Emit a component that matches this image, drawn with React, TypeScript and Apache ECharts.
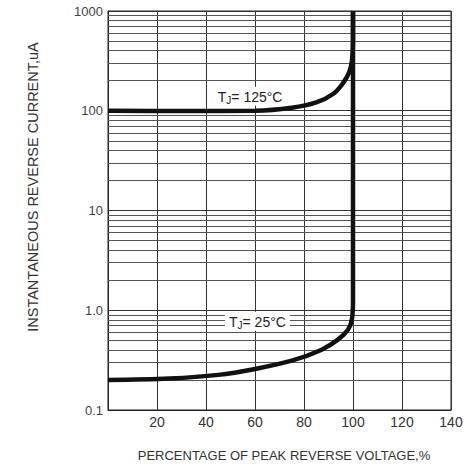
import React, { useEffect, useRef } from "react";
import * as echarts from "echarts";

const xTicks = [0, 20, 40, 60, 80, 100, 120, 140];
const yTickLabels: Record<string, string> = { "0.1": "0.1", "1": "1.0", "10": "10", "100": "100", "1000": "1000" };

// TJ = 125°C curve: [percentage, current uA]
const curve125: [number, number][] = [
  [0, 100], [30, 99.5], [60, 100], [75, 107], [85, 121],
  [92, 148], [96, 190], [98.5, 245], [99.6, 320], [100, 500], [100, 1000],
];
// TJ = 25°C curve
const curve25: [number, number][] = [
  [0, 0.2], [25, 0.207], [45, 0.225], [60, 0.258], [75, 0.312],
  [87, 0.4], [94, 0.51], [98, 0.64], [99.5, 0.8], [100, 1.2], [100, 1000],
];
// Minor log grid lines
const minorLines = [
  0.2, 0.3, 0.4, 0.5, 0.6, 0.7, 0.8, 0.9,
  2, 3, 4, 5, 6, 7, 8, 9,
  20, 30, 40, 50, 60, 70, 80, 90,
  200, 300, 400, 500, 600, 700, 800, 900,
];
const label125Pos: [number, number] = [58, 140];
const label25Pos: [number, number] = [61, 0.775];

const FONT = "'Liberation Sans', Arial, sans-serif";

export default function App() {
  const ref = useRef<HTMLDivElement>(null);
  useEffect(() => {
    if (!ref.current) return;
    const chart = echarts.init(ref.current, null, { renderer: "svg" });
    const rich = {
      t: { fontSize: 14, fontFamily: FONT, color: "#222" },
      sub: { fontSize: 10, fontFamily: FONT, color: "#222", padding: [7, 0, 0, 0] },
    };
    chart.setOption({
      animation: false,
      backgroundColor: "#fff",
      grid: { left: 108, right: 17, top: 11, bottom: 60, show: true, borderColor: "#222", borderWidth: 1, containLabel: false },
      xAxis: {
        type: "value",
        min: 0,
        max: 140,
        interval: 20,
        axisLine: { show: true, lineStyle: { color: "#222", width: 1 } },
        axisTick: { show: false },
        splitLine: { show: true, lineStyle: { color: "#333", width: 1 } },
        axisLabel: {
          margin: 5,
          fontSize: 14,
          fontFamily: FONT,
          color: "#333",
          formatter: (v: number) => (v === 0 || !xTicks.includes(v) ? "" : String(v)),
        },
      },
      yAxis: {
        type: "log",
        logBase: 10,
        min: 0.1,
        max: 1000,
        axisLine: { show: true, lineStyle: { color: "#222", width: 1 } },
        axisTick: { show: false },
        splitLine: { show: true, lineStyle: { color: "#333", width: 1 } },
        axisLabel: {
          margin: 5,
          fontSize: 13,
          fontFamily: FONT,
          color: "#444",
          formatter: (v: number) => yTickLabels[String(v)] ?? "",
        },
      },
      graphic: [
        {
          type: "text",
          x: 33,
          y: 187,
          rotation: Math.PI / 2,
          style: {
            text: "INSTANTANEOUS REVERSE CURRENT,uA",
            fontSize: 14.5,
            fontFamily: FONT,
            fill: "#333",
            align: "center",
            verticalAlign: "middle",
          },
        },
        {
          type: "text",
          x: 284,
          y: 455,
          style: {
            text: "PERCENTAGE OF PEAK REVERSE VOLTAGE,%",
            fontSize: 13,
            fontFamily: "'Liberation Sans Narrow', 'Liberation Sans', Arial, sans-serif",
            fill: "#333",
            align: "center",
            verticalAlign: "middle",
          },
        },
      ],
      series: [
        {
          type: "line",
          data: [],
          z: 1,
          silent: true,
          markLine: {
            silent: true,
            symbol: "none",
            label: { show: false },
            lineStyle: { color: "#555", width: 1, type: "solid" },
            data: minorLines.map((v) => ({ yAxis: v })),
          },
        },
        {
          name: "125",
          type: "line",
          data: curve125,
          smooth: 0.35,
          showSymbol: false,
          symbol: "none",
          z: 5,
          lineStyle: { color: "#111", width: 4.5 },
          markPoint: {
            symbol: "rect",
            symbolSize: 0,
            data: [{ coord: label125Pos }],
            label: {
              show: true,
              position: "inside",
              formatter: "{t|T}{sub|J}{t|= 125°C}",
              backgroundColor: "#fff",
              padding: [2, 4, 0, 4],
              rich,
            },
          },
        },
        {
          name: "25",
          type: "line",
          data: curve25,
          smooth: 0.35,
          showSymbol: false,
          symbol: "none",
          z: 5,
          lineStyle: { color: "#111", width: 4.5 },
          markPoint: {
            symbol: "rect",
            symbolSize: 0,
            data: [{ coord: label25Pos }],
            label: {
              show: true,
              position: "inside",
              formatter: "{t|T}{sub|J}{t|= 25°C}",
              backgroundColor: "#fff",
              padding: [2, 4, 0, 4],
              rich,
            },
          },
        },
      ],
    });
    return () => chart.dispose();
  }, []);
  return <div ref={ref} style={{ width: 468, height: 470, position: "fixed", left: 0, top: 0 }} />;
}
